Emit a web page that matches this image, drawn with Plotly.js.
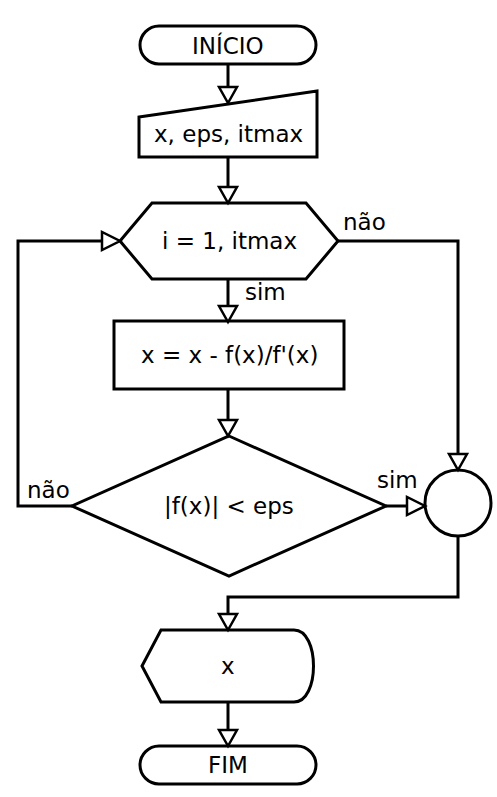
<!DOCTYPE html>
<html>
<head>
<meta charset="utf-8">
<script src="https://cdn.plot.ly/plotly-3.0.1.min.js"></script>
<style>body{margin:0;background:#fff}#chart{width:497px;height:797px}</style>
</head>
<body>
<div id="chart"></div>
<script>
// flowchart nodes (centre x, centre y, half width, half height)
const nodeKinds = ['terminal', 'input', 'loop', 'process', 'decision', 'connector', 'display', 'terminal'];
const nodeLabels = ['INÍCIO', 'x, eps, itmax', 'i = 1, itmax', "x = x - f(x)/f'(x)", '|f(x)| < eps', '', 'x', 'FIM'];
const nodeX = [228, 228, 229, 229, 229, 458, 228, 228];
const nodeY = [45, 124, 241, 355, 506, 503, 666, 765];
const nodeW = [88, 89, 109, 115, 157, 33, 86, 88];
const nodeH = [19, 33, 38, 34, 70, 33, 36, 19];

// connectors as polylines; last point gets an arrow head
const links = [
  {pts: [[228, 64], [228, 103]], head: 'down'},
  {pts: [[228, 157], [228, 203]], head: 'down'},
  {pts: [[228, 279], [228, 322]], head: 'down'},
  {pts: [[228, 389], [228, 436]], head: 'down'},
  {pts: [[338, 241], [458, 241], [458, 470]], head: 'down'},
  {pts: [[72, 506], [18, 506], [18, 241], [120, 241]], head: 'right'},
  {pts: [[386, 506], [425, 506]], head: 'right'},
  {pts: [[458, 536], [458, 597], [228, 597], [228, 630]], head: 'down'},
  {pts: [[228, 702], [228, 746]], head: 'down'}
];
const edgeLabels = ['não', 'sim', 'não', 'sim'];
const edgeLabelX = [364, 265, 48, 397];
const edgeLabelY = [222, 292, 490, 480];

const line = {color: '#000', width: 3};
const shapes = [];

function pathOf(pts) {
  return pts.map((p, i) => (i ? 'L' : 'M') + p[0] + ',' + p[1]).join(' ');
}

nodeKinds.forEach((k, i) => {
  const cx = nodeX[i], cy = nodeY[i], w = nodeW[i], h = nodeH[i];
  const l = cx - w, r = cx + w, t = cy - h, b = cy + h;
  let path;
  if (k === 'terminal') {
    const c = h * 0.55;
    path = `M${l + h},${t} L${r - h},${t} C${r - h + c},${t} ${r},${cy - c} ${r},${cy} C${r},${cy + c} ${r - h + c},${b} ${r - h},${b} L${l + h},${b} C${l + h - c},${b} ${l},${cy + c} ${l},${cy} C${l},${cy - c} ${l + h - c},${t} ${l + h},${t} Z`;
  } else if (k === 'input') {
    path = pathOf([[l, t + 26], [r, t], [r, b], [l, b]]) + ' Z';
  } else if (k === 'loop') {
    path = pathOf([[l, cy], [l + 32, t], [r - 32, t], [r, cy], [r - 32, b], [l + 32, b]]) + ' Z';
  } else if (k === 'process') {
    path = pathOf([[l, t], [r, t], [r, b], [l, b]]) + ' Z';
  } else if (k === 'decision') {
    path = pathOf([[cx, t], [r, cy], [cx, b], [l, cy]]) + ' Z';
  } else if (k === 'display') {
    path = `M${l},${cy} L${l + 19},${t} L${r - 20},${t} C${r + 6},${t} ${r + 6},${b} ${r - 20},${b} L${l + 19},${b} Z`;
  }
  if (k === 'connector') {
    shapes.push({type: 'circle', xref: 'x', yref: 'y', x0: l, x1: r, y0: t, y1: b, line: line, fillcolor: '#fff'});
  } else {
    shapes.push({type: 'path', xref: 'x', yref: 'y', path: path, line: line, fillcolor: '#fff'});
  }
});

links.forEach(lk => {
  const pts = lk.pts.slice();
  const tip = pts[pts.length - 1];
  let headPath;
  if (lk.head === 'down') {
    const base = [tip[0], tip[1] - 16];
    pts[pts.length - 1] = base;
    headPath = pathOf([[tip[0] - 9, base[1]], [tip[0] + 9, base[1]], tip]) + ' Z';
  } else {
    const base = [tip[0] - 18, tip[1]];
    pts[pts.length - 1] = base;
    headPath = pathOf([[base[0], tip[1] - 9], [base[0], tip[1] + 9], tip]) + ' Z';
  }
  shapes.push({type: 'path', xref: 'x', yref: 'y', path: pathOf(pts), line: line});
  shapes.push({type: 'path', xref: 'x', yref: 'y', path: headPath, line: {color: '#000', width: 2.5}, fillcolor: '#fff'});
});

const annotations = [];
nodeLabels.forEach((t, i) => {
  if (!t) return;
  annotations.push({x: nodeX[i], y: nodeY[i] + (nodeKinds[i] === 'input' ? 10 : 0), text: t, showarrow: false, xref: 'x', yref: 'y', font: {size: 23}});
});
edgeLabels.forEach((t, i) => {
  annotations.push({x: edgeLabelX[i], y: edgeLabelY[i], text: t, showarrow: false, xref: 'x', yref: 'y', font: {size: 23}});
});

const layout = {
  width: 497, height: 797,
  margin: {t: 0, b: 0, l: 0, r: 0},
  paper_bgcolor: '#fff', plot_bgcolor: '#fff',
  font: {family: 'DejaVu Sans', color: '#000'},
  xaxis: {range: [0, 497], visible: false, fixedrange: true},
  yaxis: {range: [797, 0], visible: false, fixedrange: true},
  shapes: shapes,
  annotations: annotations,
  showlegend: false
};

Plotly.newPlot('chart', [], layout, {displayModeBar: false, staticPlot: true});
</script>
</body>
</html>
